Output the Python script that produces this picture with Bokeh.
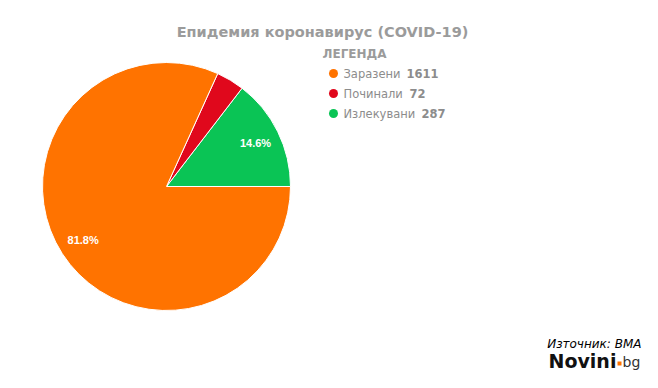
import math
from bokeh.plotting import figure
from bokeh.models import Range1d, ColumnDataSource
from bokeh.core.properties import value
from bokeh.embed import file_html
from bokeh.resources import INLINE

# ---- data ----
categories = ["Излекувани", "Починали", "Заразени"]      # drawing order (anticlockwise from 3 o'clock)
counts = [287, 72, 1611]
colors = ["#0ac455", "#e0081c", "#ff7300"]
show_label = [True, False, True]

legend_names = ["Заразени", "Починали", "Излекувани"]
legend_values = [1611, 72, 287]
legend_colors = ["#ff7300", "#e0081c", "#0ac455"]

title_text = "Епидемия коронавирус (COVID-19)"
legend_title = "ЛЕГЕНДА"
source_text = "Източник: ВМА"

# ---- layout ----
W, H = 642, 372
def sy(y):  # screenshot y -> data y
    return H - y
def sx(x):
    return x

p = figure(width=W, height=H, output_backend="svg", toolbar_location=None,
           x_range=Range1d(0, W), y_range=Range1d(0, H), min_border=0,
           outline_line_color=None)
p.axis.visible = False
p.grid.visible = False
p.background_fill_color = "white"
p.border_fill_color = "white"

total = sum(counts)
cx, cy, r = sx(166), sy(186), 124
starts, ends, lx, ly, ltxt = [], [], [], [], []
acc = 0.0
for c, show in zip(counts, show_label):
    a0 = 2 * math.pi * acc / total
    acc += c
    a1 = 2 * math.pi * acc / total
    starts.append(a0)
    ends.append(a1)
    if show:
        mid = (a0 + a1) / 2
        lx.append(cx + 0.8 * r * math.cos(mid))
        ly.append(cy + 0.8 * r * math.sin(mid))
        ltxt.append(f"{100 * c / total:.1f}%")

src = ColumnDataSource(dict(start=starts, end=ends, color=colors))
p.wedge(x=cx, y=cy, radius=r, radius_units="screen", start_angle="start", end_angle="end",
        fill_color="color", line_color="white", line_width=1, source=src)

p.text(x=lx, y=ly, text=ltxt, text_color="white", text_font=value("Liberation Sans"),
       text_font_style="bold", text_font_size="11px", text_align="center", text_baseline="middle")

# title
p.text(x=[sx(322)], y=[sy(31)], text=[title_text], text_color="#9b9b9b",
       text_font=value("DejaVu Sans"), text_font_style="bold", text_font_size="14.5px",
       text_align="center", text_baseline="middle")

# legend
p.text(x=[sx(322)], y=[sy(53)], text=[legend_title], text_color="#9b9b9b",
       text_font=value("DejaVu Sans"), text_font_style="bold", text_font_size="12px",
       text_align="left", text_baseline="middle")
row_y = [sy(73 + 20 * i) for i in range(len(legend_names))]
p.scatter(x=[sx(333)] * len(legend_names), y=row_y, size=9, marker="circle",
          fill_color=legend_colors, line_color=None)
p.text(x=[sx(343)] * len(legend_names), y=row_y, text=legend_names, text_color="#8c8c8c",
       text_font=value("DejaVu Sans"), text_font_size="11.5px", text_align="left",
       text_baseline="middle")
num_x = [sx(406), sx(409), sx(421)]
p.text(x=num_x, y=row_y, text=[str(v) for v in legend_values], text_color="#8c8c8c",
       text_font=value("DejaVu Sans"), text_font_style="bold", text_font_size="11.5px",
       text_align="left", text_baseline="middle")

# source + logo
p.text(x=[sx(641)], y=[sy(343)], text=[source_text], text_color="black",
       text_font=value("DejaVu Sans"), text_font_style="italic", text_font_size="12px",
       text_align="right", text_baseline="middle")
p.text(x=[sx(548)], y=[sy(360.5)], text=["Novini"], text_color="#111111",
       text_font=value("DejaVu Sans"), text_font_style="bold", text_font_size="19px",
       text_align="left", text_baseline="middle")
p.scatter(x=[sx(619)], y=[sy(363)], size=4, marker="square", fill_color="#ff7300", line_color=None)
p.text(x=[sx(622)], y=[sy(361)], text=["bg"], text_color="#333333",
       text_font=value("DejaVu Sans"), text_font_size="14px",
       text_align="left", text_baseline="middle")

open("out.html", "w").write(file_html(p, INLINE))
